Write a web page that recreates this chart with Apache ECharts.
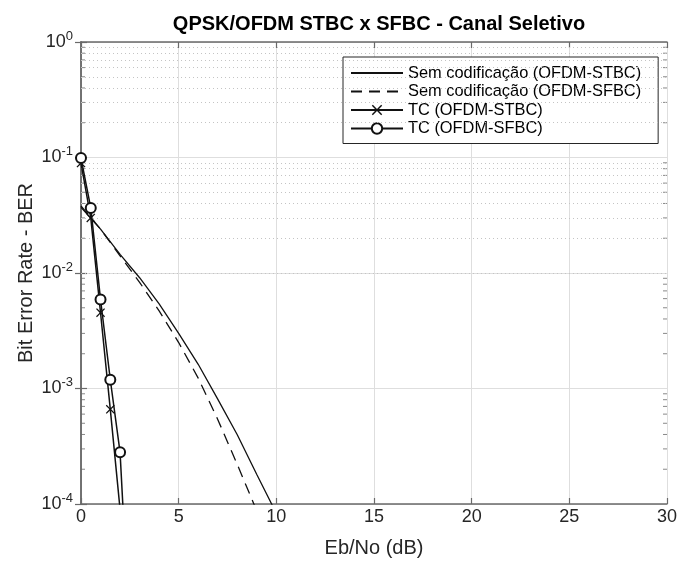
<!DOCTYPE html>
<html>
<head>
<meta charset="utf-8">
<script src="https://cdn.jsdelivr.net/npm/echarts@6/dist/echarts.min.js"></script>
<style>
html,body{margin:0;padding:0;background:#fff;}
#chart{width:681px;height:563px;}
</style>
</head>
<body>
<div id="chart"></div>
<script>
// ---- data ----
var titleText = 'QPSK/OFDM STBC x SFBC - Canal Seletivo';
var xLabel = 'Eb/No (dB)';
var yLabel = 'Bit Error Rate - BER';
var seriesNames = ['Sem codificação (OFDM-STBC)', 'Sem codificação (OFDM-SFBC)', 'TC (OFDM-STBC)', 'TC (OFDM-SFBC)'];

var ebnoUncodedSTBC = [0, 1, 2, 3, 4, 5, 6, 7, 8, 9, 10];
var berUncodedSTBC  = [0.037, 0.024, 0.0145, 0.0091, 0.0054, 0.0030, 0.00162, 0.00081, 0.000398, 0.00018, 0.000083];

var ebnoUncodedSFBC = [0, 1, 2, 3, 4, 5, 6, 7, 8, 9];
var berUncodedSFBC  = [0.038, 0.024, 0.0141, 0.0083, 0.0047, 0.0025, 0.00123, 0.00054, 0.00022, 0.000087];

var ebnoTC     = [0, 0.5, 1, 1.5, 2, 2.5];
var berTC_STBC = [0.0895, 0.030, 0.00453, 0.00066, 0.00009, 0.00001];
var berTC_SFBC = [0.0989, 0.0366, 0.0059, 0.00119, 0.00028, 0.000007];

var xTickMin = 0, xTickMax = 30, xTickStep = 5;
var yMin = 1e-4, yMax = 1;
var yMinorTicks = [];
[1e-4, 1e-3, 1e-2, 1e-1].forEach(function (d) {
  [2, 3, 4, 5, 6, 7, 8, 9].forEach(function (m) { yMinorTicks.push(+(m * d).toPrecision(3)); });
});

function pairs(xs, ys) { return xs.map(function (x, i) { return [x, ys[i]]; }); }

var FONT = '"Liberation Sans", Arial, Helvetica, sans-serif';
var AXC = '#262626';
var BOX = '#6a6a6a';
var xMarker = 'path://M0,1L1,0L5,4L9,0L10,1L6,5L10,9L9,10L5,6L1,10L0,9L4,5Z';

var chart = echarts.init(document.getElementById('chart'), null, {renderer: 'canvas'});

var option = {
  backgroundColor: '#fff',
  animation: false,
  textStyle: {fontFamily: FONT},
  title: {
    text: titleText, left: 374, top: 9, textAlign: 'center',
    textStyle: {fontFamily: FONT, fontSize: 20, fontWeight: 'bold', color: '#000'}
  },
  grid: {left: 81, right: 14, top: 42, bottom: 58, show: false},
  legend: {
    data: [
      {name: seriesNames[0], itemStyle: {color: 'transparent', borderWidth: 0}},
      {name: seriesNames[1], itemStyle: {color: 'transparent', borderWidth: 0}},
      {name: seriesNames[2]},
      {name: seriesNames[3]}
    ],
    orient: 'vertical',
    left: 343, top: 57,
    padding: [8, 17, 7, 7],
    itemGap: 2.5,
    itemWidth: 52, itemHeight: 13,
    backgroundColor: '#fff',
    borderColor: AXC, borderWidth: 1, borderRadius: 0,
    textStyle: {fontFamily: FONT, fontSize: 16.4, color: '#000', lineHeight: 16}
  },
  xAxis: [{
    type: 'value', min: xTickMin, max: xTickMax, interval: xTickStep,
    name: xLabel, nameLocation: 'middle', nameGap: 34, nameMoveOverlap: false,
    nameTextStyle: {fontFamily: FONT, fontSize: 20, color: AXC},
    axisLine: {show: true, lineStyle: {color: BOX, width: 1.5}},
    axisTick: {show: true, inside: true, length: 6, lineStyle: {color: BOX, width: 1.2}},
    axisLabel: {fontFamily: FONT, fontSize: 18, color: AXC, margin: 4},
    splitLine: {show: true, lineStyle: {color: '#dedede', width: 1}}
  }, {
    type: 'value', position: 'top', min: xTickMin, max: xTickMax, interval: xTickStep,
    axisLine: {show: true, lineStyle: {color: BOX, width: 1.5}},
    axisTick: {show: true, inside: true, length: 6, lineStyle: {color: BOX, width: 1.2}},
    axisLabel: {show: false},
    splitLine: {show: false}
  }],
  yAxis: [{
    type: 'log', logBase: 10, min: yMin, max: yMax, splitNumber: 4,
    name: yLabel, nameLocation: 'middle', nameGap: 45, nameMoveOverlap: false,
    nameTextStyle: {fontFamily: FONT, fontSize: 20, color: AXC},
    axisLine: {show: true, lineStyle: {color: BOX, width: 1.5}},
    axisTick: {show: true, inside: true, length: 6, lineStyle: {color: BOX, width: 1.2}},
    axisLabel: {
      fontFamily: FONT, color: AXC, margin: 8,
      formatter: function (v) { return '{b|10}{sup|' + Math.round(Math.log10(v)) + '}'; },
      rich: {
        b: {fontFamily: FONT, fontSize: 18, color: AXC},
        sup: {fontFamily: FONT, fontSize: 13, color: AXC, padding: [0, 0, 12, 0]}
      }
    },
    splitLine: {show: true, lineStyle: {color: '#dedede', width: 1}}
  }, {
    type: 'log', logBase: 10, min: yMin, max: yMax, splitNumber: 4, position: 'right',
    axisLine: {show: true, lineStyle: {color: BOX, width: 1.5}},
    axisTick: {show: true, inside: true, length: 6, lineStyle: {color: BOX, width: 1.2}},
    axisLabel: {show: false},
    splitLine: {show: false}
  }],
  series: [
    {
      name: 'minorLeft', type: 'scatter', xAxisIndex: 0, yAxisIndex: 0, silent: true, clip: false, z: 1,
      data: yMinorTicks.map(function (v) { return [xTickMin, v]; }),
      symbol: 'rect', symbolSize: [4, 1], symbolOffset: [2, 0],
      itemStyle: {color: BOX},
      markLine: {
        silent: true, symbol: 'none', label: {show: false},
        lineStyle: {color: '#c4c4c4', type: [1, 3], width: 1},
        data: yMinorTicks.map(function (v) { return {yAxis: v}; })
      }
    },
    {
      name: 'minorRight', type: 'scatter', xAxisIndex: 0, yAxisIndex: 0, silent: true, clip: false, z: 1,
      data: yMinorTicks.map(function (v) { return [xTickMax, v]; }),
      symbol: 'rect', symbolSize: [4, 1], symbolOffset: [-2, 0],
      itemStyle: {color: BOX}
    },
    {
      name: seriesNames[0], type: 'line', data: pairs(ebnoUncodedSTBC, berUncodedSTBC),
      showSymbol: false, symbol: 'none', z: 5,
      lineStyle: {color: '#111', width: 1.3, type: 'solid'}, itemStyle: {color: '#111'}
    },
    {
      name: seriesNames[1], type: 'line', data: pairs(ebnoUncodedSFBC, berUncodedSFBC),
      showSymbol: false, symbol: 'none', z: 5,
      lineStyle: {color: '#111', width: 1.3, type: [11, 7]}, itemStyle: {color: '#111'}
    },
    {
      name: seriesNames[2], type: 'line', data: pairs(ebnoTC, berTC_STBC),
      symbol: xMarker, symbolSize: 9, showSymbol: true, z: 6,
      lineStyle: {color: '#111', width: 1.5}, itemStyle: {color: '#111'}
    },
    {
      name: seriesNames[3], type: 'line', data: pairs(ebnoTC, berTC_SFBC),
      symbol: 'emptyCircle', symbolSize: 10, showSymbol: true, z: 6,
      lineStyle: {color: '#111', width: 1.5}, itemStyle: {color: '#111', borderWidth: 1.2}
    }
  ]
};
chart.setOption(option);
</script>
</body>
</html>
